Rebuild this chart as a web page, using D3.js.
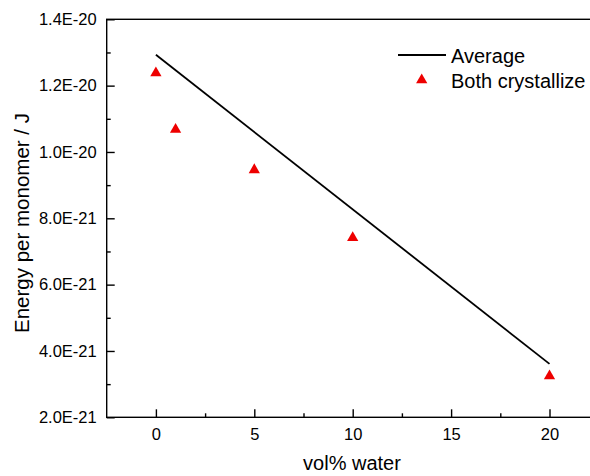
<!DOCTYPE html>
<html><head><meta charset="utf-8">
<script src="https://cdn.jsdelivr.net/npm/d3@7"></script>
<style>body{margin:0;background:#fff}svg{display:block;font-family:"Liberation Sans",Arial,sans-serif}</style>
</head><body>
<svg id="c" width="590" height="476"></svg>
<script>
const waterPct = [0, 1, 5, 10, 20];
const bothCrystallize = [1.238e-20, 1.068e-20, 9.46e-21, 7.41e-21, 3.245e-21];
const averageX = [0, 20];
const averageY = [1.293e-20, 3.61e-21];
const yTicks = [2e-21, 4e-21, 6e-21, 8e-21, 1e-20, 1.2e-20, 1.4e-20];
const yTickLabels = ["2.0E-21","4.0E-21","6.0E-21","8.0E-21","1.0E-20","1.2E-20","1.4E-20"];
const xTicks = [0, 5, 10, 15, 20];
const xMinor = [2.5, 7.5, 12.5, 17.5];
const yMinor = [3e-21, 5e-21, 7e-21, 9e-21, 1.1e-20, 1.3e-20];

const svg = d3.select("#c");
const x = d3.scaleLinear().domain([-2.5, 22.5]).range([106.7, 598.7]);
const y = d3.scaleLinear().domain([2e-21, 1.4e-20]).range([417.3, 19.3]);
const FONT = "Liberation Sans, Arial, sans-serif";

const g = svg.append("g");
// frame
g.append("rect").attr("x", x(-2.5)).attr("y", y(1.4e-20))
  .attr("width", x(22.5)-x(-2.5)).attr("height", y(2e-21)-y(1.4e-20))
  .attr("fill","none").attr("stroke","#000").attr("stroke-width",1.4);

// x axis ticks (inward)
const xAxis = d3.axisBottom(x).tickValues(xTicks).tickSize(-8).tickPadding(11).tickFormat(d3.format("d"));
const xa = g.append("g").attr("transform",`translate(0,${y(2e-21)})`).call(xAxis)
  .attr("font-size",16.5).attr("font-family",FONT);
xa.select(".domain").remove();
xa.selectAll("text").attr("fill","#000");
xa.selectAll("line").attr("stroke-width",1.4);
const xm = d3.axisBottom(x).tickValues(xMinor).tickSize(-4).tickFormat("");
const xma = g.append("g").attr("transform",`translate(0,${y(2e-21)})`).call(xm);
xma.select(".domain").remove();
xma.selectAll("line").attr("stroke-width",1.4);

// y axis
const yAxis = d3.axisLeft(y).tickValues(yTicks).tickSize(-8).tickPadding(10)
  .tickFormat((d,i)=>yTickLabels[i]);
const ya = g.append("g").attr("transform",`translate(${x(-2.5)},0)`).call(yAxis)
  .attr("font-size",16.5).attr("font-family",FONT);
ya.select(".domain").remove();
ya.selectAll("text").attr("fill","#000");
ya.selectAll("line").attr("stroke-width",1.4);
const ym = d3.axisLeft(y).tickValues(yMinor).tickSize(-4).tickFormat("");
const yma = g.append("g").attr("transform",`translate(${x(-2.5)},0)`).call(ym);
yma.select(".domain").remove();
yma.selectAll("line").attr("stroke-width",1.4);

// average line
const line = d3.line().x(d=>x(d[0])).y(d=>y(d[1]));
g.append("path").datum(averageX.map((v,i)=>[v, averageY[i]]))
  .attr("d", line).attr("fill","none").attr("stroke","#000").attr("stroke-width",1.8);

// triangles
const tri = d3.symbol().type(d3.symbolTriangle).size(55);
g.selectAll("path.pt").data(waterPct.map((v,i)=>[v,bothCrystallize[i]])).join("path")
  .attr("class","pt").attr("d",tri)
  .attr("transform",d=>`translate(${x(d[0])},${y(d[1])})`)
  .attr("fill","#ee0000");

// axis titles
svg.append("text").attr("x", 352).attr("y", 470).attr("text-anchor","middle")
  .attr("font-size",20).text("vol% water");
svg.append("text").attr("transform","translate(29,223) rotate(-90)").attr("text-anchor","middle")
  .attr("font-size",20.5).text("Energy per monomer / J");

// legend
svg.append("line").attr("x1",398).attr("x2",446).attr("y1",55).attr("y2",55)
  .attr("stroke","#000").attr("stroke-width",1.8);
svg.append("text").attr("x",451).attr("y",62.5).attr("font-size",20).text("Average");
svg.append("path").attr("d",tri).attr("transform","translate(421.7,80)").attr("fill","#ee0000");
svg.append("text").attr("x",451).attr("y",87.5).attr("font-size",20).text("Both crystallize");
</script>
</body></html>
